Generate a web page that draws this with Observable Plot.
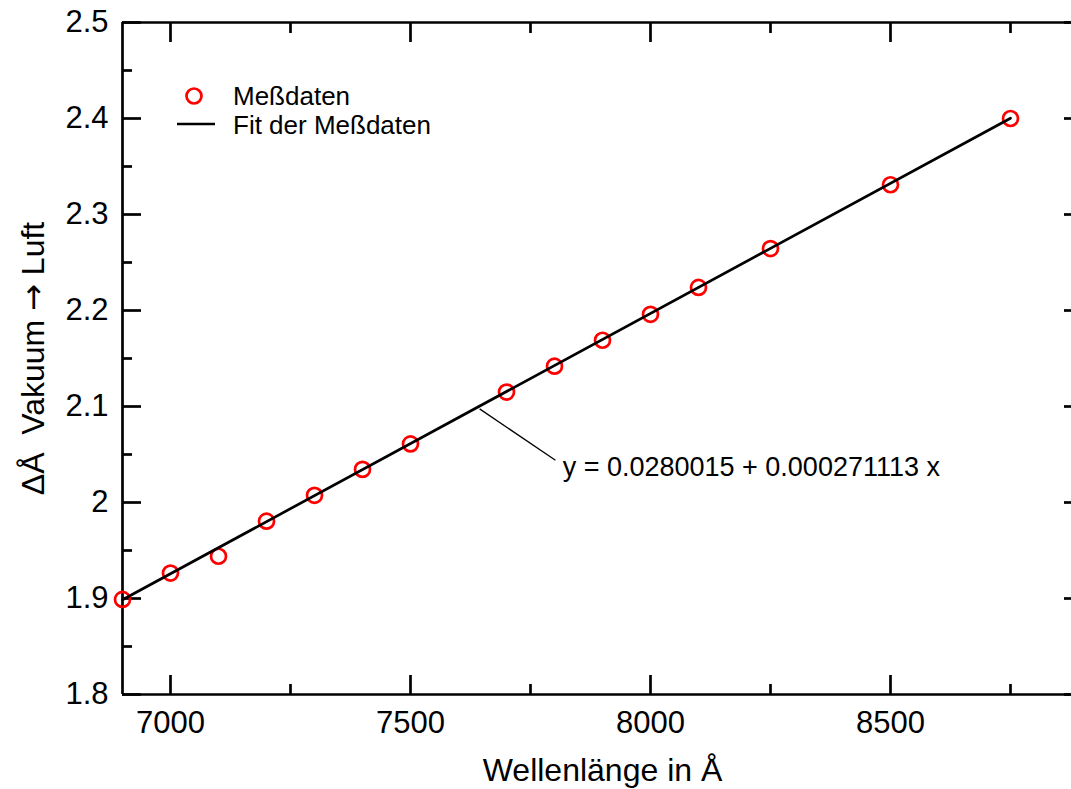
<!DOCTYPE html>
<html><head><meta charset="utf-8">
<script src="https://cdn.jsdelivr.net/npm/d3@7"></script>
<script src="https://cdn.jsdelivr.net/npm/@observablehq/plot@0.6"></script>
<style>
html,body{margin:0;padding:0;background:#fff;overflow:hidden;}
#wrap{position:relative;width:1071px;height:789px;font-family:"Liberation Sans",Arial,sans-serif;}
#legend{position:absolute;left:0;top:0;pointer-events:none;}
</style></head><body><div id="wrap"></div>
<script>
const wavelength = [6900, 7000, 7100, 7200, 7300, 7400, 7500, 7700, 7800, 7900, 8000, 8100, 8250, 8500, 8750];
const delta = [1.899, 1.9265, 1.944, 1.9805, 2.0075, 2.0345, 2.061, 2.115, 2.142, 2.169, 2.196, 2.224, 2.2645, 2.331, 2.400];
const fitX = [6900, 8750];
const fitY = [1.8987, 2.4003];
const xMajorTicks = [7000, 7500, 8000, 8500];
const xMinorTicks = [7250, 7750, 8250, 8750];
const yMajorTicks = [1.8, 1.9, 2.0, 2.1, 2.2, 2.3, 2.4, 2.5];
const yMinorTicks = [1.85, 1.95, 2.05, 2.15, 2.25, 2.35, 2.45];
const yTickLabels = ["1.8", "1.9", "2", "2.1", "2.2", "2.3", "2.4", "2.5"];
const xTickLabels = ["7000", "7500", "8000", "8500"];
const xDomain = [6900, 8900];
const yDomain = [1.8, 2.5];
const equation = "y = 0.0280015 + 0.000271113 x";
const leaderFrom = [7644, 2.0975];
const leaderTo = [7802, 2.044];
const equationAt = [7817, 2.037];
const xTitle = "Wellenlänge in Å";
const yTitle = "ΔÅ  Vakuum → Luft";
const legendLabels = ["Meßdaten", "Fit der Meßdaten"];

const points = wavelength.map((w, i) => ({x: w, y: delta[i]}));
const fit = fitX.map((w, i) => ({x: w, y: fitY[i]}));
const font = "Liberation Sans, Arial, sans-serif";
const SW = 2.7;

const chart = Plot.plot({
  width: 1071,
  height: 789,
  marginLeft: 122,
  marginRight: 0,
  marginTop: 22,
  marginBottom: 95,
  style: {fontFamily: font, background: "#fff", color: "#000", overflow: "hidden"},
  x: {domain: xDomain, range: [122, 1082]},
  y: {domain: yDomain},
  marks: [
    // frame
    Plot.ruleY(yDomain, {stroke: "#000", strokeWidth: SW}),
    Plot.ruleX(xDomain, {stroke: "#000", strokeWidth: SW}),
    // bottom/top ticks
    Plot.axisX({anchor: "bottom", ticks: xMajorTicks, tickSize: -19, fill: "none", strokeWidth: SW, label: null}),
    Plot.axisX({anchor: "bottom", ticks: xMinorTicks, tickSize: -10, fill: "none", strokeWidth: SW, label: null}),
    Plot.axisX({anchor: "top", ticks: xMajorTicks, tickSize: -19, fill: "none", strokeWidth: SW, label: null}),
    Plot.axisX({anchor: "top", ticks: xMinorTicks, tickSize: -10, fill: "none", strokeWidth: SW, label: null}),
    Plot.axisX({anchor: "bottom", ticks: xMajorTicks, tickSize: 0, tickPadding: 16, fontSize: 31, label: null,
      tickFormat: d => xTickLabels[xMajorTicks.indexOf(d)]}),
    // left/right ticks
    Plot.axisY({anchor: "left", ticks: yMajorTicks, tickSize: -19, fill: "none", strokeWidth: SW, label: null}),
    Plot.axisY({anchor: "left", ticks: yMinorTicks, tickSize: -10, fill: "none", strokeWidth: SW, label: null}),
    Plot.axisY({anchor: "right", ticks: yMajorTicks, tickSize: -19, dx: 11, fill: "none", strokeWidth: SW, label: null}),
    Plot.axisY({anchor: "right", ticks: yMinorTicks, tickSize: -10, dx: 11, fill: "none", strokeWidth: SW, label: null}),
    Plot.axisY({anchor: "left", ticks: yMajorTicks, tickSize: 0, tickPadding: 14, fontSize: 31, label: null,
      tickFormat: d => yTickLabels[yMajorTicks.findIndex(t => Math.abs(t - d) < 1e-9)]}),
    // data
    Plot.dot(points, {x: "x", y: "y", r: 7.5, stroke: "#ff0000", strokeWidth: SW, fill: "none"}),
    Plot.line(fit, {x: "x", y: "y", stroke: "#000", strokeWidth: SW}),
    // annotation
    Plot.link([{}], {x1: () => leaderFrom[0], y1: () => leaderFrom[1], x2: () => leaderTo[0], y2: () => leaderTo[1], stroke: "#000", strokeWidth: 1.3}),
    Plot.text([equation], {x: () => equationAt[0], y: () => equationAt[1], text: d => d, textAnchor: "start", lineAnchor: "middle", fontSize: 27, fill: "#000"}),
    // axis titles
    Plot.text([xTitle], {frameAnchor: "bottom", text: d => d, dx: 5.5, dy: 64, textAnchor: "middle", lineAnchor: "top", fontSize: 32, fill: "#000"}),
    Plot.text([yTitle], {frameAnchor: "left", text: d => d, rotate: -90, dx: -89, textAnchor: "middle", lineAnchor: "middle", fontSize: 32, fill: "#000"})
  ]
});

const wrap = document.getElementById("wrap");
wrap.appendChild(chart);

// keep the double space and use a font with a proper arrow glyph in the y title
d3.select(chart).selectAll("text").each(function() {
  const el = this;
  if (el.childElementCount === 0 && el.textContent.includes("→")) {
    const parts = el.textContent.split("→");
    el.textContent = "";
    el.style.whiteSpace = "pre";
    el.setAttribute("xml:space", "preserve");
    const ns = "http://www.w3.org/2000/svg";
    parts.forEach((p, i) => {
      if (i > 0) {
        const a = document.createElementNS(ns, "tspan");
        a.setAttribute("font-family", "DejaVu Sans");
        a.textContent = "→";
        el.appendChild(a);
      }
      el.appendChild(document.createTextNode(p));
    });
  }
});

// legend overlay
const ns = "http://www.w3.org/2000/svg";
const leg = document.createElementNS(ns, "svg");
leg.setAttribute("id", "legend");
leg.setAttribute("width", 1071);
leg.setAttribute("height", 789);
const c = document.createElementNS(ns, "circle");
c.setAttribute("cx", 194); c.setAttribute("cy", 96); c.setAttribute("r", 7.5);
c.setAttribute("fill", "none"); c.setAttribute("stroke", "#ff0000"); c.setAttribute("stroke-width", SW);
leg.appendChild(c);
const l = document.createElementNS(ns, "line");
l.setAttribute("x1", 177); l.setAttribute("x2", 215); l.setAttribute("y1", 124); l.setAttribute("y2", 124);
l.setAttribute("stroke", "#000"); l.setAttribute("stroke-width", SW);
leg.appendChild(l);
legendLabels.forEach((txt, i) => {
  const t = document.createElementNS(ns, "text");
  t.setAttribute("x", 233); t.setAttribute("y", i === 0 ? 105 : 134);
  t.setAttribute("font-size", 26); t.setAttribute("font-family", font);
  t.setAttribute("fill", "#000");
  t.textContent = txt;
  leg.appendChild(t);
});
wrap.appendChild(leg);
</script>
</body></html>
